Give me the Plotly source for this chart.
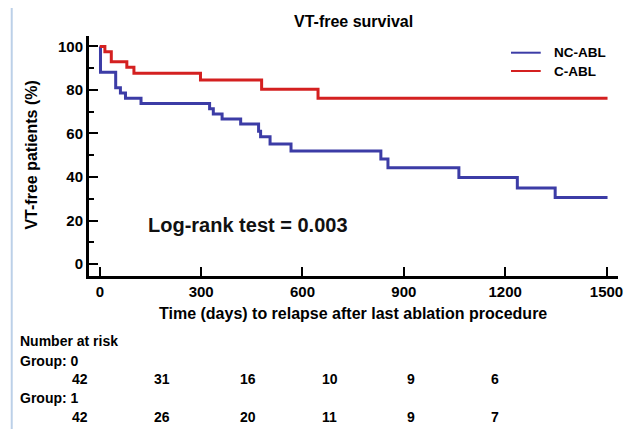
import plotly.graph_objects as go

# ---- data ----
nc_time = [0, 2, 47, 61, 76, 122, 325, 336, 362, 417, 470, 476, 504, 566, 832, 853, 1063, 1236, 1348, 1503]
nc_surv = [100, 88.1, 81.0, 78.6, 76.2, 73.8, 71.4, 69.0, 66.7, 64.3, 61.0, 58.5, 55.2, 52.0, 48.3, 44.2, 39.8, 35.0, 30.6, 30.6]
c_time = [0, 15, 34, 80, 101, 298, 479, 646, 1503]
c_surv = [100, 97.6, 93.0, 90.4, 87.7, 84.6, 80.3, 76.2, 76.2]

x_ticks = [0, 300, 600, 900, 1200, 1500]
y_ticks = [0, 20, 40, 60, 80, 100]
series_names = ["NC-ABL", "C-ABL"]
risk_group0 = [42, 31, 16, 10, 9, 6]
risk_group1 = [42, 26, 20, 11, 9, 7]

BLUE = "#3c3ca6"
RED = "#d42020"
FONT = "Liberation Sans, Arial, sans-serif"

OFF = 8  # page body margin
W, H = 641 - 2 * OFF, 429 - OFF
L, R, T, B = 89 - OFF, 623 - OFF, 36 - OFF, 276 - OFF  # plot area in figure pixels


def px(xp):
    """reference page pixel x -> paper coordinate"""
    return (xp - OFF - L) / (R - L)


def py(yp):
    return (B - (yp - OFF)) / (B - T)


def label(text, xp, yp, size, xanchor="center", angle=0, color="black"):
    return dict(text=text, x=px(xp), y=py(yp), xref="paper", yref="paper", showarrow=False,
                xanchor=xanchor, yanchor="middle", textangle=angle,
                font=dict(size=size, color=color, family=FONT))


fig = go.Figure()
fig.add_trace(go.Scatter(x=nc_time, y=nc_surv, mode="lines", line=dict(color=BLUE, width=3, shape="hv"),
                         name=series_names[0], showlegend=False))
fig.add_trace(go.Scatter(x=c_time, y=c_surv, mode="lines", line=dict(color=RED, width=3, shape="hv"),
                         name=series_names[1], showlegend=False))

annotations = [
    label("<b>VT-free survival</b>", 356, 22, 16),
    label("<b>Time (days) to relapse after last ablation procedure</b>", 355, 313, 16),
    label("<b>VT-free patients (%)</b>", 30, 155, 16, angle=-90),
    label("<b>Log-rank test = 0.003</b>", 249, 225, 20, color="#111"),
]

# legend drawn manually
shapes = []
leg_colors = [BLUE, RED]
leg_y = [52.7, 71]
for name, col, yy in zip(series_names, leg_colors, leg_y):
    shapes.append(dict(type="line", xref="paper", yref="paper", x0=px(515), x1=px(545), y0=py(yy), y1=py(yy),
                       line=dict(color=col, width=2)))
    annotations.append(label(f"<b>{name}</b>", 556, yy, 13.5, xanchor="left"))

# number at risk table
RS = 14
annotations.append(label("<b>Number at risk</b>", 17, 341, RS, xanchor="left"))
annotations.append(label("<b>Group: 0</b>", 17, 361, RS, xanchor="left"))
annotations.append(label("<b>Group: 1</b>", 17, 398, RS, xanchor="left"))
col_px = [80, 163, 250, 332, 414, 499]
for xp, v in zip(col_px, risk_group0):
    annotations.append(label(f"<b>{v}</b>", xp, 379, RS))
for xp, v in zip(col_px, risk_group1):
    annotations.append(label(f"<b>{v}</b>", xp, 417, RS))

shapes.append(dict(type="line", xref="paper", yref="paper", x0=px(11), x1=px(11), y0=py(4), y1=py(440),
                   line=dict(color="#bcd0e8", width=2)))

fig.update_layout(
    width=W, height=H,
    margin=dict(l=L, r=W - R, t=T, b=H - B),
    paper_bgcolor="white", plot_bgcolor="white",
    font=dict(family=FONT, color="black"),
    showlegend=False,
    annotations=annotations,
    shapes=shapes,
    xaxis=dict(range=[-32, 1534], tickvals=x_ticks, ticktext=[f"<b>{v}</b>" for v in x_ticks],
               showgrid=False, zeroline=False, showline=True, linecolor="black", linewidth=3,
               ticks="inside", ticklen=9, tickwidth=2, tickcolor="black",
               tickfont=dict(size=15, color="black", family=FONT)),
    yaxis=dict(range=[-5.5, 104.8], tickvals=y_ticks, ticktext=[f"<b>{v}</b>" for v in y_ticks],
               showgrid=False, zeroline=False, showline=True, linecolor="black", linewidth=3,
               ticks="inside", ticklen=9, tickwidth=2, tickcolor="black",
               tickfont=dict(size=15, color="black", family=FONT),
               minor=dict(tickvals=[10, 30, 50, 70, 90], ticks="inside", ticklen=5, tickwidth=2,
                          tickcolor="black", showgrid=False)),
)

fig.write_html("out.html", config={"displayModeBar": False})
